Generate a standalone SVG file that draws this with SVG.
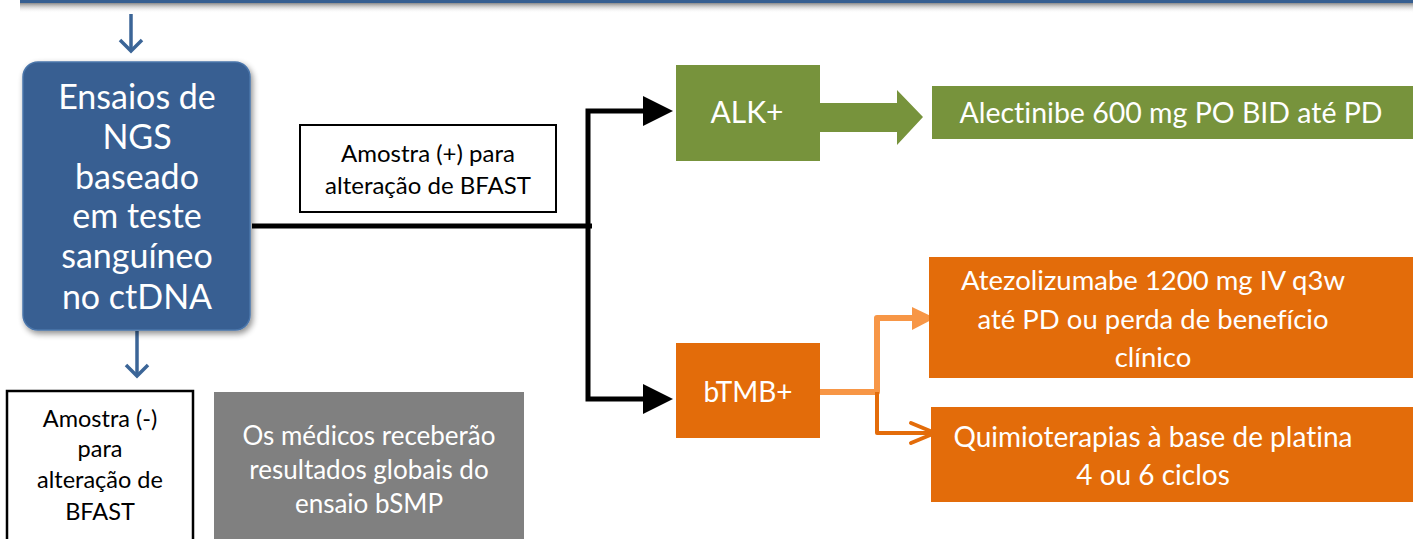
<svg xmlns="http://www.w3.org/2000/svg" width="1413" height="539" viewBox="0 0 1413 539">
<defs>
<style>
.t{font-family:Lato,"Liberation Sans",sans-serif;text-anchor:middle;font-variant-ligatures:none;font-feature-settings:"liga" 0}
.w{fill:#ffffff}
.k{fill:#000000}
.blk{fill:none;stroke:#000;stroke-width:5}
.bl{fill:none;stroke:#3b6597;stroke-width:3.5}
</style>
<linearGradient id="sh" x1="0" y1="0" x2="0" y2="1">
<stop offset="0" stop-color="#8a8a8a"/>
<stop offset="1" stop-color="#ffffff" stop-opacity="0"/>
</linearGradient>
<filter id="ds" x="-10%" y="-10%" width="130%" height="130%">
<feGaussianBlur in="SourceAlpha" stdDeviation="3"/>
<feOffset dx="2" dy="3" result="b"/>
<feComponentTransfer><feFuncA type="linear" slope="0.45"/></feComponentTransfer>
<feMerge><feMergeNode/><feMergeNode in="SourceGraphic"/></feMerge>
</filter>
</defs>

<g id="topbar">
<rect x="20" y="3" width="1393" height="10" fill="url(#sh)"/>
<rect x="20" y="-20" width="1400" height="23" fill="#365f91"/>
</g>

<g id="connectors">
<path class="bl" d="M131,14 V51"/>
<path class="bl" d="M120,40 L131,51 L142,40"/>
<path class="bl" d="M137,331 V376"/>
<path class="bl" d="M126,365 L137,376 L148,365"/>
<path class="blk" d="M252,226 H592"/>
<path class="blk" d="M645,111 H588 V399 H645"/>
<path d="M643,96 L673,111 L643,126 Z" fill="#000"/>
<path d="M643,384 L673,399 L643,414 Z" fill="#000"/>
<path d="M820,103 H897 V90 L923,117 L897,145 V132 H820 Z" fill="#77933c"/>
<path d="M820,392 H877 V318 H912" fill="none" stroke="#f79646" stroke-width="6" stroke-linejoin="round"/>
<path d="M912,307 L935,318 L912,330 Z" fill="#f79646"/>
<path d="M877,392 V433 H934" fill="none" stroke="#e36c0a" stroke-width="4" stroke-linejoin="round"/>
<path d="M911,423 L935,433 L911,443" fill="none" stroke="#e36c0a" stroke-width="4" stroke-linecap="round" stroke-linejoin="round"/>
</g>

<g id="ngs">
<rect x="23" y="62" width="227" height="268" rx="15" fill="#375f92" stroke="#4a75aa" stroke-width="1.5" filter="url(#ds)"/>
<text class="t w" font-size="34" x="137" y="109">Ensaios de</text>
<text class="t w" font-size="34" x="137" y="149">NGS</text>
<text class="t w" font-size="34" x="137" y="189">baseado</text>
<text class="t w" font-size="34" x="137" y="228">em teste</text>
<text class="t w" font-size="34" x="137" y="268">sanguíneo</text>
<text class="t w" font-size="34" x="137" y="309">no ctDNA</text>
</g>

<g id="amostra-pos">
<rect x="300" y="125" width="256" height="87" fill="#fff" stroke="#000" stroke-width="2"/>
<text class="t k" font-size="24" x="428" y="162">Amostra (+) para</text>
<text class="t k" font-size="24" x="428" y="194">alteração de BFAST</text>
</g>

<g id="amostra-neg">
<rect x="7" y="391" width="186" height="150" fill="#fff" stroke="#000" stroke-width="2.5"/>
<text class="t k" font-size="23.5" x="100" y="427">Amostra (-)</text>
<text class="t k" font-size="23.5" x="100" y="457">para</text>
<text class="t k" font-size="23.5" x="100" y="488">alteração de</text>
<text class="t k" font-size="23.5" x="100" y="520">BFAST</text>
</g>

<g id="medicos">
<rect x="214" y="392" width="310" height="147" fill="#808080"/>
<text class="t w" font-size="26" x="369" y="445">Os médicos receberão</text>
<text class="t w" font-size="26" x="369" y="479">resultados globais do</text>
<text class="t w" font-size="26" x="369" y="513">ensaio bSMP</text>
</g>

<g id="alk">
<rect x="676" y="65" width="144" height="96" fill="#77933c"/>
<text class="t w" font-size="30" x="747" y="123">ALK+</text>
</g>

<g id="alectinibe">
<rect x="932" y="86" width="481" height="53" fill="#77933c"/>
<text class="t w" font-size="28.5" x="1171" y="123">Alectinibe 600 mg PO BID até PD</text>
</g>

<g id="btmb">
<rect x="676" y="343" width="144" height="95" fill="#e36c0a"/>
<text class="t w" font-size="28" x="748" y="402">bTMB+</text>
</g>

<g id="atezo">
<rect x="929" y="257" width="484" height="121" fill="#e36c0a"/>
<text class="t w" font-size="27.5" x="1153" y="290">Atezolizumabe 1200 mg IV q3w</text>
<text class="t w" font-size="27.5" x="1153" y="329">até PD ou perda de benefício</text>
<text class="t w" font-size="27.5" x="1153" y="367">clínico</text>
</g>

<g id="quimio">
<rect x="931" y="407" width="482" height="95" fill="#e36c0a"/>
<text class="t w" font-size="28" x="1153" y="447">Quimioterapias à base de platina</text>
<text class="t w" font-size="28" x="1153" y="485">4 ou 6 ciclos</text>
</g>
</svg>
